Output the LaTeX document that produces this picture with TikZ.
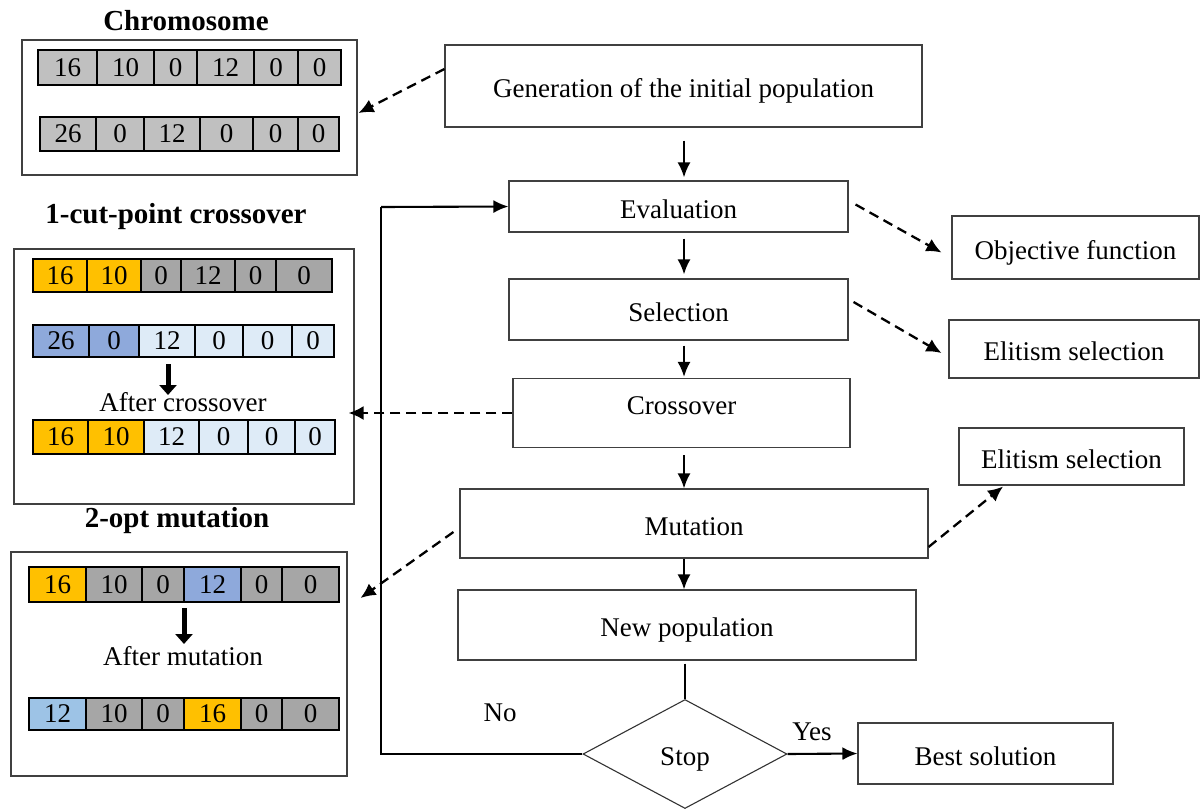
\documentclass[tikz,border=0pt]{standalone}
\usepackage{fontspec}
\setmainfont{Liberation Serif}
\usetikzlibrary{arrows.meta,shapes.geometric}

\definecolor{lgray}{HTML}{C0C0C0}
\definecolor{dgray}{HTML}{A6A6A6}
\definecolor{gold}{HTML}{FFC000}
\definecolor{mblue}{HTML}{8EA9DB}
\definecolor{pblue}{HTML}{DEEBF7}
\definecolor{sblue}{HTML}{9DC3E6}

\tikzset{
  box/.style={draw=black!75, line width=1.1pt, inner sep=0pt, text height=23pt, text depth=0pt},
  gene/.style={draw=black, line width=2.4pt},
  arr/.style={line width=2.1pt, -{Latex[length=15pt,width=13pt]}},
  dasharr/.style={line width=2.3pt, dash pattern=on 10pt off 6pt, -{Latex[length=15pt,width=14pt]}},
  bigarr/.style={line width=5pt, -{Triangle[length=10pt,width=17pt]}},
  ttl/.style={font=\fontsize{29}{34}\selectfont\bfseries}
}

% one row of genes: name, top, bottom, list of left/right/colour/value
\newcommand{\generow}[4]{%
  \foreach \xa/\xb/\col/\num [count=\i] in {#4}{
    \draw[gene,fill=\col] (\xa,#2) rectangle (\xb,#3);
    \node (#1\i) at ({(\xa+\xb)/2},{(#2+#3)/2}) {\num};
  }}

\begin{document}
\begin{tikzpicture}[x=1pt,y=-1pt,font=\fontsize{27}{32}\selectfont]
\useasboundingbox (0,0) rectangle (1202,809);

% chromosome
\node[ttl] (tchr) at (186,21) {Chromosome};
\node[box, minimum width=335pt, minimum height=135pt] (chromo) at (189.5,107.5) {};
\generow{ca}{50}{85}{38/97/lgray/16, 97/154/lgray/10, 154/197/lgray/0, 197/254/lgray/12, 254/298/lgray/0, 298/341/lgray/0}
\generow{cb}{117}{151}{40/96/lgray/26, 96/144/lgray/0, 144/200/lgray/12, 200/253/lgray/0, 253/298/lgray/0, 298/339/lgray/0}

% crossover
\node[ttl] (txo) at (176,217) {1-cut-point crossover};
\node[box, minimum width=340pt, minimum height=255pt] (xbox) at (184,376.5) {};
\generow{xa}{259}{292}{33/87/gold/16, 87/141/gold/10, 141/181/dgray/0, 181/235/dgray/12, 235/276/dgray/0, 276/332/dgray/0}
\generow{xb}{325}{357}{33/89/mblue/26, 89/139/mblue/0, 139/195/pblue/12, 195/243/pblue/0, 243/292/pblue/0, 292/334/pblue/0}
\draw[bigarr] (168,364) -- (168,395);
\node (after1) at (183,402) {After crossover};
\generow{xc}{420}{454}{33/88/gold/16, 88/144/gold/10, 144/199/pblue/12, 199/248/pblue/0, 248/295/pblue/0, 295/335/pblue/0}

% mutation
\node[ttl] (tmu) at (177,521) {2-opt mutation};
\node[box, minimum width=336pt, minimum height=224pt] (mbox) at (179,664) {};
\generow{ma}{567}{602}{29/86/gold/16, 86/142/dgray/10, 142/184/dgray/0, 184/241/mblue/12, 241/282/dgray/0, 282/339/dgray/0}
\draw[bigarr] (184,608) -- (184,644);
\node (after2) at (183,656) {After mutation};
\generow{mb}{698}{730}{29/86/sblue/12, 86/142/dgray/10, 142/184/dgray/0, 184/241/gold/16, 241/282/dgray/0, 282/339/dgray/0}

% flow
\node[box, minimum width=477pt, minimum height=82pt] (gen) at (683.5,86) {Generation of the initial population};
\node[box, minimum width=339pt, minimum height=51pt] (eval) at (678.5,206.5) {Evaluation};
\node[box, minimum width=339pt, minimum height=61pt] (sel) at (678.5,309.5) {Selection};
\node[box, minimum width=337pt, minimum height=69pt, text height=18pt, text depth=16pt] (cross) at (681.5,413) {Crossover};
\node[box, minimum width=468pt, minimum height=69pt] (mut) at (694,523.5) {Mutation};
\node[box, minimum width=458pt, minimum height=70pt] (newp) at (687,625) {New population};
\node[box, draw=black!80, diamond, minimum width=204pt, minimum height=109pt] (stop) at (685,754) {Stop};
\node[box, minimum width=255pt, minimum height=61pt] (best) at (985.5,753.5) {Best solution};
\node[box, minimum width=247pt, minimum height=63pt] (obj) at (1075.5,247.5) {Objective function};
\node[box, minimum width=250pt, minimum height=58pt] (elit1) at (1074,349) {Elitism selection};
\node[box, minimum width=225pt, minimum height=57pt] (elit2) at (1071.5,456.5) {Elitism selection};
\node (yes) at (812,732) {Yes};
\node (no) at (500,713) {No};
\coordinate (spine) at (684,0);
\coordinate (loop) at (381,207);

\draw[arr, shorten <=13pt, shorten >=3pt] (spine |- gen.south) -- (spine |- eval.north);
\draw[arr, shorten <=6pt, shorten >=4pt] (spine |- eval.south) -- (spine |- sel.north);
\draw[arr, shorten <=5pt, shorten >=1pt] (spine |- sel.south) -- (spine |- cross.north);
\draw[arr, shorten <=7pt] (spine |- cross.south) -- (spine |- mut.north);
\draw[arr] (spine |- mut.south) -- (spine |- newp.north);
\draw[line width=1.1pt, shorten <=3pt] (stop.north |- newp.south) -- (stop.north);
\draw[arr] (stop.east) -- (best.west);
\draw[line width=1.1pt] (stop.west) -| (loop);
\draw[arr] (loop) -- (eval.west);

% dashed links
\draw[dasharr] ([yshift=17pt]gen.west) -- ([xshift=1pt,yshift=-5.5pt]chromo.east);
\draw[dasharr] ([xshift=7pt,yshift=2pt]eval.east) -- ([xshift=-10pt,yshift=-5pt]obj.west);
\draw[dasharr] ([xshift=5pt,yshift=7.5pt]sel.east) -- ([xshift=-7pt,yshift=-4pt]elit1.west);
\draw[dasharr, shorten >=-6pt] (cross.west) -- (cross.west -| xbox.east);
\draw[dasharr] ([xshift=-6pt,yshift=-8.5pt]mut.west) -- ([xshift=13pt,yshift=66pt]mbox.east);
\draw[dasharr] ([yshift=-23.5pt]mut.east) -- ([xshift=-68.5pt,yshift=-1pt]elit2.south);
\end{tikzpicture}
\end{document}
